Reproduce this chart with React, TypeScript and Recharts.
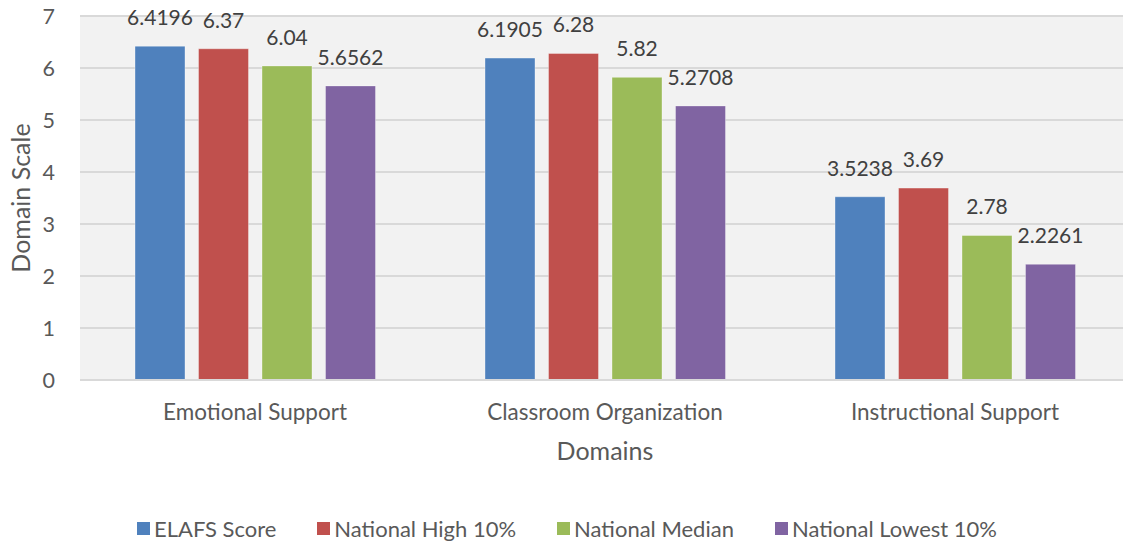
import React from 'react';
import { BarChart, Bar, XAxis, YAxis, CartesianGrid, LabelList, Legend } from 'recharts';

const categories = ['Emotional Support', 'Classroom Organization', 'Instructional Support'];
const elafsScore = [6.4196, 6.1905, 3.5238];
const nationalHigh = [6.37, 6.28, 3.69];
const nationalMedian = [6.04, 5.82, 2.78];
const nationalLowest = [5.6562, 5.2708, 2.2261];
const yTicks = [0, 1, 2, 3, 4, 5, 6, 7];

const series = [
  { key: 'elafs', name: 'ELAFS Score', color: '#4F81BD', values: elafsScore },
  { key: 'high', name: 'National High 10%', color: '#C0504D', values: nationalHigh },
  { key: 'median', name: 'National Median', color: '#9BBB59', values: nationalMedian },
  { key: 'lowest', name: 'National Lowest 10%', color: '#8064A2', values: nationalLowest },
];

const data = categories.map((c, i) => {
  const row: Record<string, string | number> = { category: c };
  series.forEach((s) => {
    row[s.key] = s.values[i];
  });
  return row;
});

const FONT = 'Lato, "Open Sans", sans-serif';

const LegendContent = () => (
  <div
    style={{
      display: 'flex',
      justifyContent: 'center',
      alignItems: 'center',
      height: 30,
      paddingLeft: 11,
      fontFamily: FONT,
      fontSize: 22,
      color: '#595959',
    }}
  >
    {series.map((s, i) => (
      <div key={s.key} style={{ display: 'flex', alignItems: 'center', marginLeft: i === 0 ? 0 : 41 }}>
        <span style={{ display: 'inline-block', width: 13, height: 13, background: s.color, marginRight: 4 }} />
        <span>{s.name}</span>
      </div>
    ))}
  </div>
);

export default function App() {
  return (
    <div style={{ position: 'absolute', left: 0, top: 0, width: 1123, height: 543, overflow: 'hidden', background: '#fff' }}>
      <BarChart
        width={1130}
        height={543}
        data={data}
        margin={{ top: 16, right: 0, bottom: 53, left: 0 }}
        barGap={13.5}
        barSize={50}
      >
        <CartesianGrid vertical={false} fill="#F2F2F2" stroke="#D9D9D9" strokeWidth={2} />
        <XAxis
          dataKey="category"
          height={80}
          tickLine={false}
          tickSize={0}
          tickMargin={24}
          axisLine={{ stroke: '#D9D9D9', strokeWidth: 2 }}
          tick={{ fill: '#595959', fontSize: 22.5, fontFamily: FONT }}
          label={{ value: 'Domains', position: 'insideBottom', offset: 0, fill: '#595959', fontSize: 25, fontFamily: FONT }}
        />
        <YAxis
          width={80}
          domain={[0, 7]}
          ticks={yTicks}
          interval={0}
          axisLine={false}
          tickLine={false}
          tickSize={0}
          tickMargin={25}
          tick={{ fill: '#595959', fontSize: 21.5, fontFamily: FONT }}
          label={{
            value: 'Domain Scale',
            angle: -90,
            position: 'insideLeft',
            offset: 21,
            fill: '#595959',
            fontSize: 25,
            fontFamily: FONT,
            style: { textAnchor: 'middle' },
          }}
        />
        <Legend
          verticalAlign="bottom"
          content={() => <LegendContent />}
          wrapperStyle={{ bottom: 0, left: 0, width: 1123 }}
        />
        {series.map((s) => (
          <Bar
            key={s.key}
            dataKey={s.key}
            name={s.name}
            fill={s.color}
            stroke="rgba(255,255,255,0.35)"
            strokeWidth={1}
            isAnimationActive={false}
          >
            <LabelList
              dataKey={s.key}
              position="top"
              offset={21}
              fill="#404040"
              fontSize={21}
              fontFamily={FONT}
            />
          </Bar>
        ))}
      </BarChart>
    </div>
  );
}
